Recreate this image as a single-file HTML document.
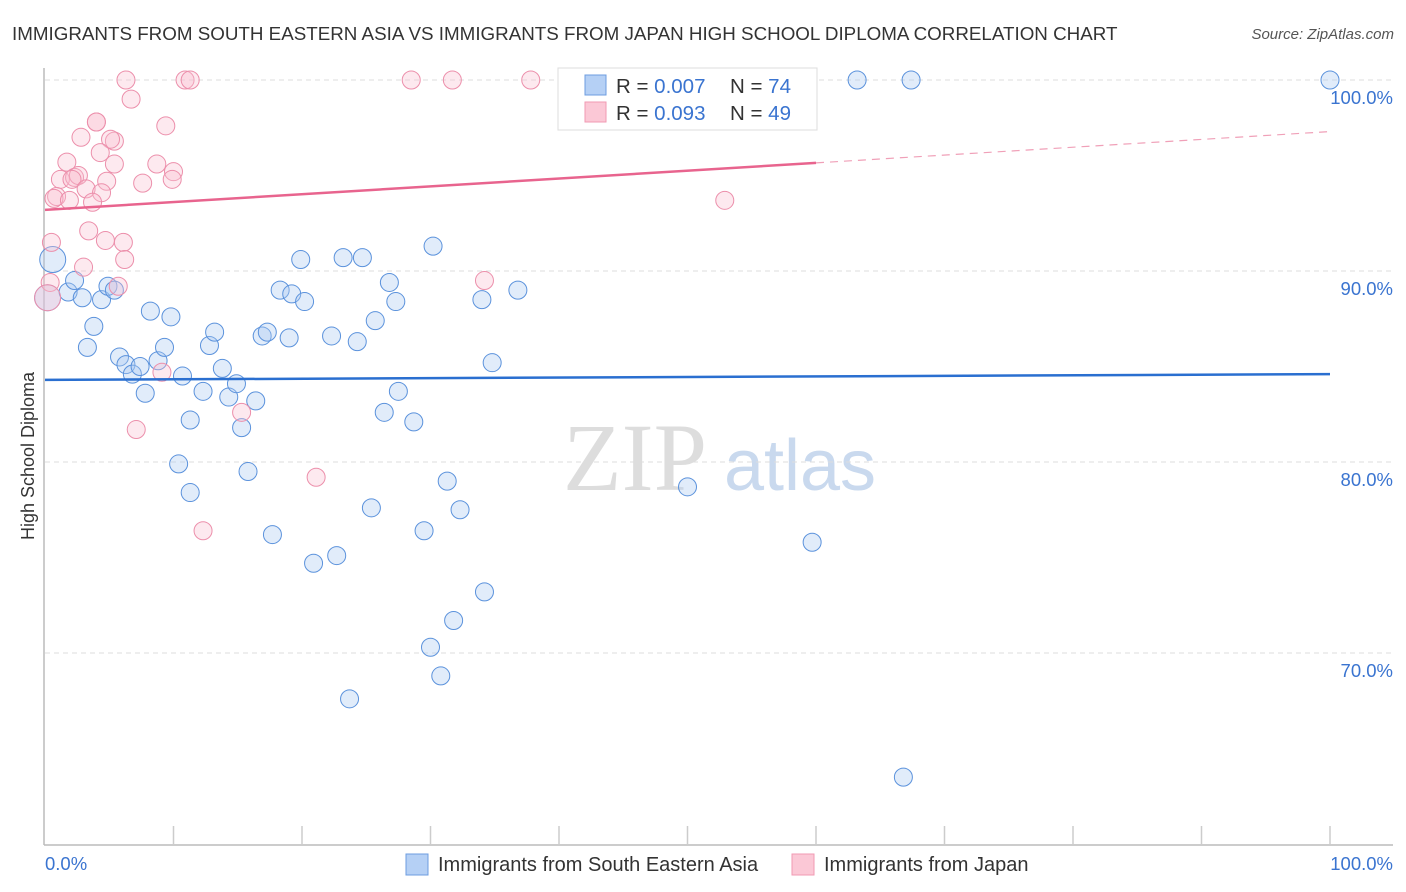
<!DOCTYPE html>
<html><head><meta charset="utf-8"><style>
body{margin:0;background:#fff;font-family:"Liberation Sans",sans-serif;}
svg{display:block}
</style></head><body>
<svg id="chart" width="1406" height="892" xmlns="http://www.w3.org/2000/svg">
<text x="12" y="40" font-size="18.8" fill="#333">IMMIGRANTS FROM SOUTH EASTERN ASIA VS IMMIGRANTS FROM JAPAN HIGH SCHOOL DIPLOMA CORRELATION CHART</text>
<text x="1394" y="39" font-size="15" fill="#555" font-style="italic" text-anchor="end">Source: ZipAtlas.com</text>
<text x="34" y="456" font-size="18" fill="#333" text-anchor="middle" transform="rotate(-90 34 456)">High School Diploma</text>
<g><text x="635" y="490" font-size="96" fill="#ddd" font-family="Liberation Serif,serif" text-anchor="middle">ZIP</text><text x="800" y="490" font-size="72" fill="#c9d9ee" text-anchor="middle">atlas</text></g>
<g id="grid"></g><g id="axes"></g><g id="pts"></g><g id="trends"></g>
<g>
<rect x="558" y="68" width="259" height="62" fill="#fff" stroke="#ddd"/>
<rect x="585" y="75" width="21" height="20" fill="#b5d0f5" stroke="#6d9de0"/>
<rect x="585" y="102" width="21" height="20" fill="#fbc8d6" stroke="#f09ab3"/>
<text x="616" y="93" font-size="20.5" fill="#333">R = <tspan fill="#3a74d0">0.007</tspan></text>
<text x="730" y="93" font-size="20.5" fill="#333">N = <tspan fill="#3a74d0">74</tspan></text>
<text x="616" y="120" font-size="20.5" fill="#333">R = <tspan fill="#3a74d0">0.093</tspan></text>
<text x="730" y="120" font-size="20.5" fill="#333">N = <tspan fill="#3a74d0">49</tspan></text>
</g>
<g>
<rect x="406" y="854" width="22" height="21" fill="#b5d0f5" stroke="#6d9de0"/>
<text x="438" y="871" font-size="20" fill="#333">Immigrants from South Eastern Asia</text>
<rect x="792" y="854" width="22" height="21" fill="#fbc8d6" stroke="#f09ab3"/>
<text x="824" y="871" font-size="20" fill="#333">Immigrants from Japan</text>
</g>
</svg>
<script>
const yTicks=[100,90,80,70];
const yTickLabels=["100.0%","90.0%","80.0%","70.0%"];
const blueX=[0.6,0.2,1.8,2.3,2.9,4.4,4.9,5.4,3.8,3.3,5.8,6.3,6.8,7.4,7.8,8.2,8.8,9.3,9.8,10.7,11.3,10.4,11.3,12.3,12.8,13.2,13.8,14.3,14.9,15.3,16.4,15.8,16.9,17.3,17.7,18.3,19.0,19.2,20.2,19.9,20.9,22.3,22.7,23.2,24.3,24.7,25.7,25.4,26.4,26.8,27.3,27.5,28.7,29.5,30.2,31.3,30.8,30.0,31.8,32.3,34.0,34.2,34.8,36.8,50.0,59.7,66.8,63.2,67.4,100,43.0,23.7];
const blueY=[90.6,88.6,88.9,89.5,88.6,88.5,89.2,89.0,87.1,86.0,85.5,85.1,84.6,85.0,83.6,87.9,85.3,86.0,87.6,84.5,82.2,79.9,78.4,83.7,86.1,86.8,84.9,83.4,84.1,81.8,83.2,79.5,86.6,86.8,76.2,89.0,86.5,88.8,88.4,90.6,74.7,86.6,75.1,90.7,86.3,90.7,87.4,77.6,82.6,89.4,88.4,83.7,82.1,76.4,91.3,79.0,68.8,70.3,71.7,77.5,88.5,73.2,85.2,89.0,78.7,75.8,63.5,100,100,100,100,67.6];
const pinkX=[6.3,10.9,11.3,28.5,31.7,37.8,6.7,4.0,9.4,2.8,5.4,5.1,4.3,1.7,5.4,8.7,10.0,1.2,2.3,2.6,2.1,4.8,7.6,9.9,0.9,3.2,4.4,0.7,3.7,1.9,52.9,3.4,6.1,4.7,0.5,6.2,3.0,0.4,5.7,34.2,9.1,15.3,7.1,21.1,12.3,0.2,4.0];
const pinkY=[100,100,100,100,100,100,99.0,97.8,97.6,97.0,96.8,96.9,96.2,95.7,95.6,95.6,95.2,94.8,94.9,95.0,94.8,94.7,94.6,94.8,93.9,94.3,94.1,93.8,93.6,93.7,93.7,92.1,91.5,91.6,91.5,90.6,90.2,89.4,89.2,89.5,84.7,82.6,81.7,79.2,76.4,88.6,97.8];
const blueTrend=[84.3,84.6];
const pinkTrend=[93.2,97.3];
const NS="http://www.w3.org/2000/svg";
const X=v=>45+v*12.85, Y=v=>80+(100-v)*19.1;
function mk(p,t,a){const e=document.createElementNS(NS,t);for(const k in a)e.setAttribute(k,a[k]);p.appendChild(e);return e;}
const g=document.getElementById('grid'),ax=document.getElementById('axes'),pts=document.getElementById('pts'),tr=document.getElementById('trends');
yTicks.forEach((t,i)=>{const l=mk(g,'line',{x1:45,x2:1393,y1:Y(t),y2:Y(t),stroke:'#ddd','stroke-dasharray':'5,4'});

const tx=mk(g,'text',{x:1393,y:Y(t)+24,'font-size':18.5,fill:'#3a74d0','text-anchor':'end'});tx.textContent=yTickLabels[i];
});
const la=mk(ax,'line',{x1:44,x2:44,y1:68,y2:845,stroke:'#bbb','stroke-width':1.5});
const lb=mk(ax,'line',{x1:44,x2:1393,y1:845,y2:845,stroke:'#bbb','stroke-width':1.5});
for(let i=1;i<=10;i++){const t=mk(ax,'line',{x1:X(i*10),x2:X(i*10),y1:826,y2:845,stroke:'#ccc','stroke-width':1.5});}
const x0=mk(ax,'text',{x:45,y:870,'font-size':18.5,fill:'#3a74d0'});x0.textContent='0.0%';
const x1=mk(ax,'text',{x:1393,y:870,'font-size':18.5,fill:'#3a74d0','text-anchor':'end'});x1.textContent='100.0%';
function dots(xs,ys,fill,stroke,name){xs.forEach((x,i)=>{const big=(i<2&&name==='sea-point')||(name==='japan-point'&&i===45);
const c=mk(pts,'circle',{cx:X(x),cy:Y(ys[i]),r:big?13:9,fill:fill,'fill-opacity':0.35,stroke:stroke,'stroke-width':1});
});}
dots(blueX,blueY,'#a9c8f0','#5b92dc','sea-point');
dots(pinkX,pinkY,'#f8bfd0','#ec8fab','japan-point');
const bt=mk(tr,'line',{x1:X(0),x2:X(100),y1:Y(blueTrend[0]),y2:Y(blueTrend[1]),stroke:'#2a6fd0','stroke-width':2.5});
const pm=v=>pinkTrend[0]+(pinkTrend[1]-pinkTrend[0])*v/100;
const ps=mk(tr,'line',{x1:X(0),x2:X(60),y1:Y(pm(0)),y2:Y(pm(60)),stroke:'#e8648e','stroke-width':2.5});
const pd=mk(tr,'line',{x1:X(60),x2:X(100),y1:Y(pm(60)),y2:Y(pm(100)),stroke:'#f0a0b8','stroke-width':1.2,'stroke-dasharray':'8,6'});
</script>
</body></html>
